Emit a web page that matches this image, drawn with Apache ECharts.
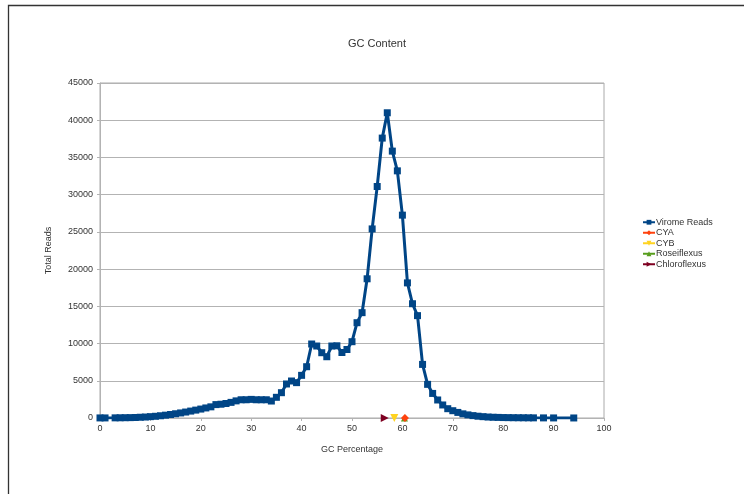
<!DOCTYPE html>
<html><head><meta charset="utf-8">
<script src="https://cdn.jsdelivr.net/npm/echarts@6/dist/echarts.min.js"></script>
<style>html,body{margin:0;padding:0;background:#fff}#c{width:744px;height:494px}</style>
</head><body><div id="c"></div>
<script>
const gcPercent = [0,1,3,4,5,6,7,8,9,10,11,12,13,14,15,16,17,18,19,20,21,22,23,24,25,26,27,28,29,30,31,32,33,34,35,36,37,38,39,40,41,42,43,44,45,46,47,48,49,50,51,52,53,54,55,56,57,58,59,60,61,62,63,64,65,66,67,68,69,70,71,72,73,74,75,76,77,78,79,80,81,82,83,84,85,86,88,90,94];
const viromeReads = [10,10,20,30,40,50,70,100,130,180,230,300,380,470,570,680,800,930,1060,1200,1350,1500,1800,1850,1950,2100,2300,2450,2450,2500,2450,2450,2450,2280,2780,3400,4570,4970,4750,5730,6890,9940,9670,8770,8230,9670,9700,8800,9200,10250,12800,14150,18700,25400,31100,37600,41000,35850,33200,27250,18150,15350,13750,7200,4520,3300,2420,1750,1250,980,750,560,420,320,240,180,130,100,80,60,50,40,35,30,25,20,15,10,5];
const cyaPoint = [60.5, 0];
const cybPoint = [58.4, 0];
const roseiflexusPoint = [60.4, 0];
const chloroflexusPoint = [56.5, 0];
const yTicks = {min: 0, max: 45000, interval: 5000};
const xTicks = {min: 0, max: 100, interval: 10};

const font = 'Liberation Sans, Arial, sans-serif';
const chart = echarts.init(document.getElementById('c'));
chart.setOption({
  animation: false,
  backgroundColor: '#fff',
  title: {text: 'GC Content', left: 372, top: 33, textAlign: 'center',
    textStyle: {fontFamily: font, fontSize: 11, fontWeight: 'normal', color: '#333'}},
  graphic: [{type: 'rect', shape: {x: 8.5, y: 5.5, width: 800, height: 600},
    style: {fill: 'none', stroke: '#333', lineWidth: 1.3}, silent: true}],
  grid: {left: 100, right: 140, top: 83, bottom: 76, show: true, borderColor: '#aaa', borderWidth: 1},
  legend: {orient: 'vertical', left: 637, top: 212, itemWidth: 12, itemHeight: 6, itemGap: 0,
    textStyle: {fontFamily: font, fontSize: 9, color: '#333', lineHeight: 10.5, padding: [0,0,0,-4]},
    data: ['Virome Reads','CYA','CYB','Roseiflexus','Chloroflexus']},
  xAxis: {type: 'value', min: xTicks.min, max: xTicks.max, interval: xTicks.interval,
    name: 'GC Percentage', nameLocation: 'middle', nameGap: 27,
    nameTextStyle: {fontFamily: font, fontSize: 9, color: '#333'},
    axisLine: {show: true, lineStyle: {color: '#b3b3b3'}},
    axisTick: {show: true, length: 3, lineStyle: {color: '#b3b3b3'}},
    axisLabel: {fontFamily: font, fontSize: 9, color: '#333', margin: 6},
    splitLine: {show: false}},
  yAxis: {type: 'value', min: yTicks.min, max: yTicks.max, interval: yTicks.interval,
    name: 'Total Reads', nameLocation: 'middle', nameGap: 47, nameRotate: 90,
    nameTextStyle: {fontFamily: font, fontSize: 9, color: '#333'},
    axisLine: {show: true, lineStyle: {color: '#b3b3b3'}},
    axisTick: {show: true, length: 3, lineStyle: {color: '#b3b3b3'}},
    axisLabel: {fontFamily: font, fontSize: 9, color: '#333', margin: 7, formatter: v => String(v)},
    splitLine: {show: true, lineStyle: {color: '#b3b3b3', width: 1}}},
  series: [
    {name: 'Virome Reads', type: 'line', data: gcPercent.map((g, i) => [g, viromeReads[i]]),
      symbol: 'rect', symbolSize: 7, color: '#004586',
      lineStyle: {width: 3, color: '#004586'}, itemStyle: {color: '#004586'}, z: 2},
    {name: 'CYA', type: 'line', data: [cyaPoint], symbol: 'diamond', symbolSize: 8,
      color: '#ff420e', itemStyle: {color: '#ff420e'}, lineStyle: {color: '#ff420e', width: 1.5}, z: 4},
    {name: 'CYB', type: 'line', data: [cybPoint], symbol: 'triangle', symbolRotate: 180, symbolSize: 8,
      color: '#ffd320', itemStyle: {color: '#ffd320'}, lineStyle: {color: '#ffd320', width: 1.5}, z: 4},
    {name: 'Roseiflexus', type: 'line', data: [roseiflexusPoint], symbol: 'triangle', symbolSize: 7,
      color: '#579d1c', itemStyle: {color: '#579d1c'}, lineStyle: {color: '#579d1c', width: 1.5}, z: 3},
    {name: 'Chloroflexus', type: 'line', data: [chloroflexusPoint], symbol: 'triangle', symbolRotate: -90, symbolSize: 8,
      color: '#7e0021', itemStyle: {color: '#7e0021'}, lineStyle: {color: '#7e0021', width: 1.5}, z: 4}
  ]
});
</script></body></html>
